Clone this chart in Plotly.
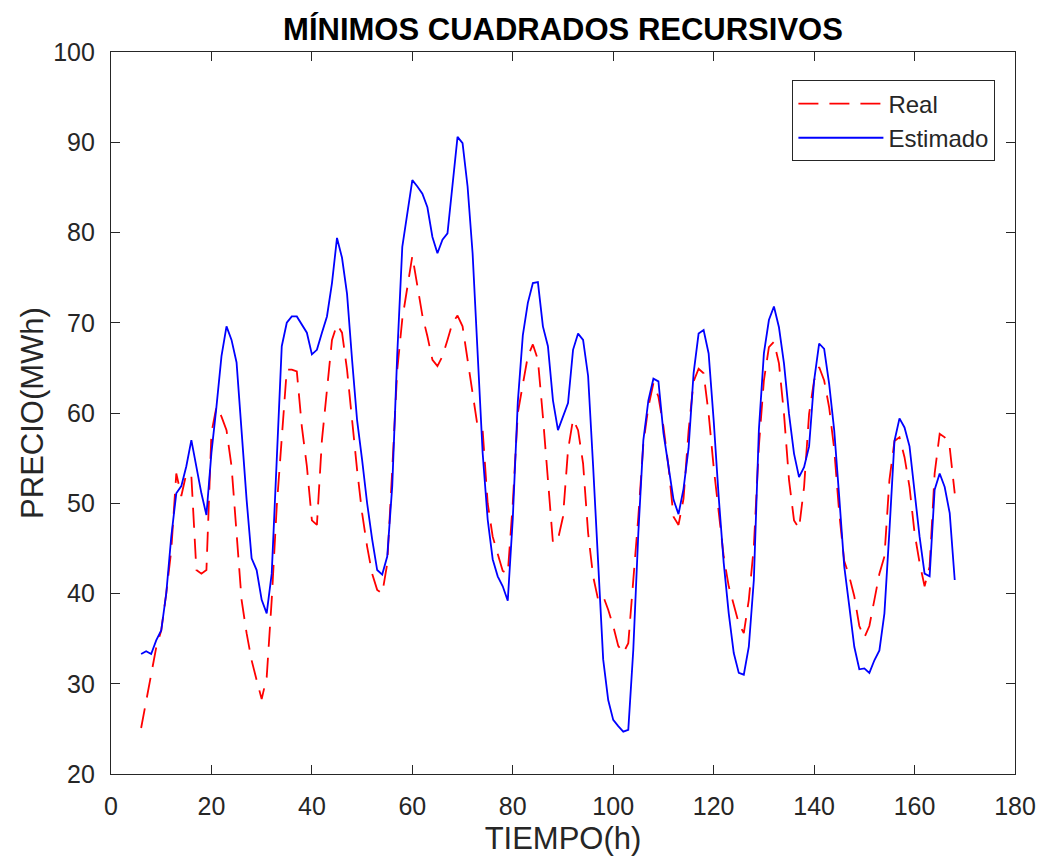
import plotly.graph_objects as go

hours = list(range(6, 169))

real = [
    25.1, 28.0, 31.0, 34.0, 35.9, 40.0, 44.8, 53.3, 50.8, 53.3,
    53.0, 42.6, 42.2, 42.6, 57.8, 60.7, 59.6, 58.1, 54.1, 46.7,
    39.3, 35.6, 32.6, 30.4, 28.3, 30.7, 39.3, 49.6, 57.8, 64.8,
    64.8, 64.6, 58.5, 54.1, 48.1, 47.6, 57.0, 63.0, 68.1, 69.8,
    68.9, 64.8, 59.2, 53.7, 48.9, 45.2, 42.2, 40.4, 40.0, 43.3,
    53.7, 64.8, 70.4, 74.1, 77.4, 74.1, 70.8, 68.5, 65.9, 65.2,
    66.3, 68.1, 70.0, 70.8, 69.6, 65.9, 62.2, 58.5, 58.1, 50.0,
    46.3, 44.4, 42.5, 42.2, 50.0, 60.0, 63.3, 66.3, 67.6, 65.9,
    59.6, 52.2, 45.6, 46.0, 48.5, 55.9, 59.3, 58.1, 54.4, 46.7,
    41.9, 39.3, 39.7, 38.2, 36.4, 34.2, 33.4, 34.5, 41.1, 48.5,
    56.6, 60.7, 63.3, 61.8, 58.5, 54.1, 48.5, 47.6, 50.5, 58.0,
    63.5, 64.9, 64.4, 59.9, 54.0, 48.9, 44.1, 40.8, 38.6, 36.7,
    35.6, 39.3, 45.2, 56.3, 63.6, 67.3, 67.9, 65.5, 59.9, 52.6,
    48.1, 47.2, 51.8, 59.9, 63.6, 65.1, 63.6, 60.6, 56.0, 48.9,
    43.6, 41.9, 39.7, 36.4, 35.1, 36.4, 39.3, 42.2, 44.1, 52.6,
    56.9, 57.3, 55.1, 51.8, 46.7, 43.4, 40.8, 43.0, 53.3, 57.7,
    57.3, 56.2, 51.1,
]

estimado = [
    33.3, 33.6, 33.3, 34.8, 35.9, 40.0, 46.3, 51.1, 51.9, 54.1,
    57.0, 54.1, 51.1, 48.7, 55.6, 60.7, 66.3, 69.6, 68.1, 65.6,
    57.8, 50.4, 43.9, 42.6, 39.3, 37.8, 42.2, 54.0, 67.4, 70.0,
    70.7, 70.7, 69.8, 68.9, 66.5, 67.0, 68.9, 70.7, 74.4, 79.4,
    77.2, 73.2, 65.9, 59.2, 54.8, 50.0, 46.0, 42.6, 42.1, 44.1,
    51.9, 66.6, 78.4, 82.1, 85.8, 85.1, 84.3, 82.8, 79.5, 77.7,
    79.2, 79.9, 85.1, 90.6, 89.9, 85.1, 77.7, 66.6, 55.6, 48.2,
    43.8, 41.9, 40.8, 39.2, 48.3, 61.2, 68.6, 72.2, 74.4, 74.5,
    69.6, 67.4, 61.4, 58.1, 59.6, 61.1, 67.0, 68.8, 68.1, 64.1,
    54.1, 43.0, 32.7, 28.2, 26.0, 25.3, 24.7, 24.9, 33.8, 46.7,
    57.0, 61.4, 63.8, 63.5, 57.8, 54.1, 50.4, 48.8, 51.6, 56.1,
    64.4, 68.8, 69.2, 66.6, 59.2, 50.7, 43.4, 37.8, 33.4, 31.2,
    31.0, 34.1, 41.5, 58.1, 66.6, 70.3, 71.8, 69.5, 65.5, 59.9,
    55.5, 52.9, 54.0, 56.3, 63.6, 67.7, 67.1, 63.2, 58.1, 50.7,
    43.0, 38.6, 34.1, 31.6, 31.7, 31.2, 32.6, 33.7, 37.8, 47.0,
    56.9, 59.4, 58.4, 56.3, 51.1, 46.3, 42.2, 41.9, 51.5, 53.3,
    51.8, 48.9, 41.5,
]

x_ticks = [0, 20, 40, 60, 80, 100, 120, 140, 160, 180]
y_ticks = [20, 30, 40, 50, 60, 70, 80, 90, 100]

FONT = "Liberation Sans, Arial, Helvetica, sans-serif"
AX = "#262626"

fig = go.Figure()
fig.add_trace(go.Scatter(
    x=hours, y=real, mode="lines", name="Real",
    line=dict(color="#ff0000", width=1.8, dash="20px,11px"),
))
fig.add_trace(go.Scatter(
    x=hours, y=estimado, mode="lines", name="Estimado",
    line=dict(color="#0000ff", width=1.8),
))

axis_common = dict(
    showline=True, linecolor=AX, linewidth=1.3, mirror="ticks",
    ticks="inside", ticklen=9, tickwidth=1.3, tickcolor=AX,
    showgrid=False, zeroline=False,
    tickfont=dict(family=FONT, size=25, color=AX),
)

fig.update_layout(
    width=1048, height=868,
    margin=dict(l=111, r=27, t=52, b=94),
    paper_bgcolor="white", plot_bgcolor="white",
    title=dict(
        text="<b>MÍNIMOS CUADRADOS RECURSIVOS</b>",
        x=0.5, xref="paper", xanchor="center",
        y=1 - 29 / 868, yref="container", yanchor="middle",
        font=dict(family=FONT, size=31, color="#000000"),
    ),
    xaxis=dict(
        range=[0, 180], tickvals=x_ticks, ticktext=[str(v) for v in x_ticks],
        title=dict(text="TIEMPO(h)", font=dict(family=FONT, size=31, color=AX), standoff=8),
        ticklabelstandoff=10,
        **axis_common,
    ),
    yaxis=dict(
        range=[20, 100], tickvals=y_ticks, ticktext=[str(v) for v in y_ticks],
        title=dict(text="PRECIO(MWh)", font=dict(family=FONT, size=31, color=AX), standoff=0),
        ticklabelstandoff=10,
        **axis_common,
    ),
    legend=dict(
        x=0.978, xanchor="right", y=0.961, yanchor="top",
        bgcolor="white", bordercolor=AX, borderwidth=1.3,
        font=dict(family=FONT, size=24, color=AX),
        itemwidth=85,
        tracegroupgap=0,
    ),
    showlegend=True,
)

fig.write_html("out.html")
